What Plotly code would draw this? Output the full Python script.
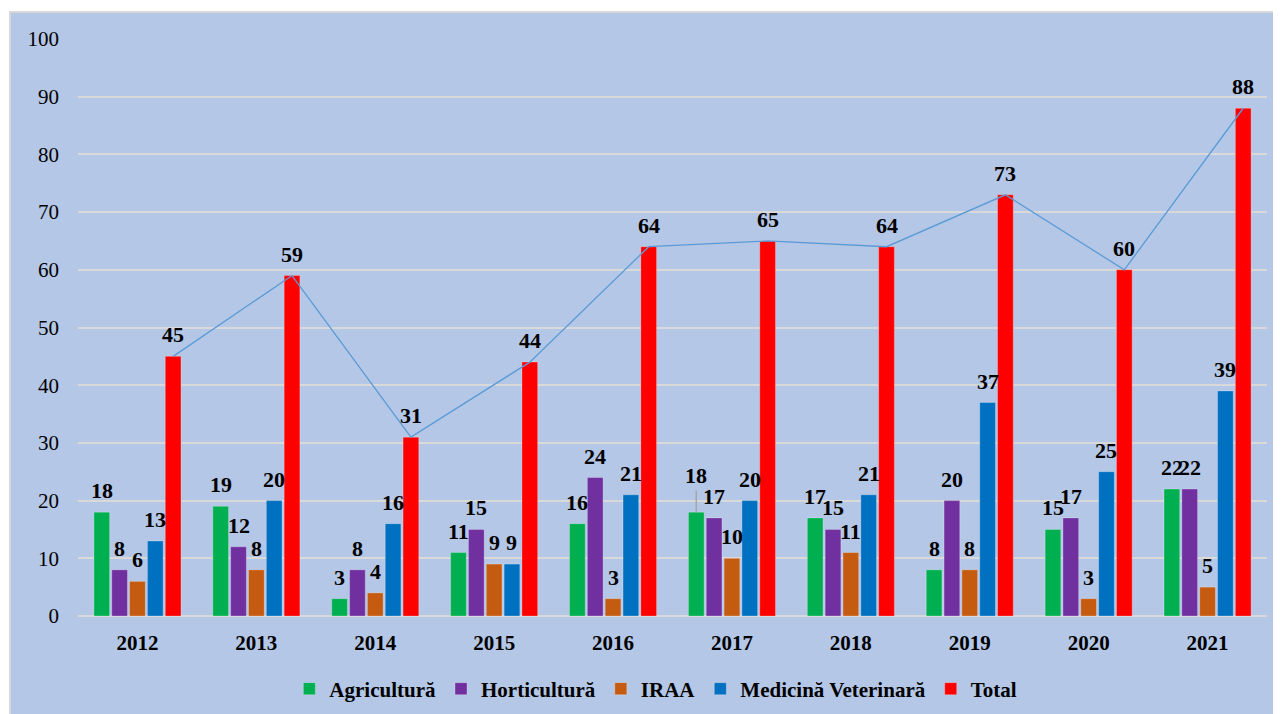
import plotly.graph_objects as go

years = ["2012", "2013", "2014", "2015", "2016", "2017", "2018", "2019", "2020", "2021"]
agricultura = [18, 19, 3, 11, 16, 18, 17, 8, 15, 22]
horticultura = [8, 12, 8, 15, 24, 17, 15, 20, 17, 22]
iraa = [6, 8, 4, 9, 3, 10, 11, 8, 3, 5]
medicina = [13, 20, 16, 9, 21, 20, 21, 37, 25, 39]
total = [45, 59, 31, 44, 64, 65, 64, 73, 60, 88]

series_names = ["Agricultură", "Horticultură", "IRAA", "Medicină Veterinară", "Total"]
series_values = [agricultura, horticultura, iraa, medicina, total]
colors = ["#00B050", "#7030A0", "#C55A11", "#0070C0", "#FF0000"]

# page body has an 8px margin, so the figure is sized to fit the window
W, H = 1273, 706
ML, MR, MT, MB = 70, 14, 31, 98
pw, ph = W - ML - MR, H - MT - MB

bargap = 0.25
groupgap = 0.12
nser = len(series_names)
slot = (1 - bargap) / nser
bw = slot * (1 - groupgap)

idx = list(range(len(years)))
serif = "Liberation Serif, Times New Roman, serif"
label_font = dict(family=serif, size=22, color="#000000", weight="bold")
leader_labels = {(0, 5)}  # label moved up with a leader line (Agricultură 2017)

bars = []
annotations = []
red_center = []
for k, (name, vals, col) in enumerate(zip(series_names, series_values, colors)):
    off = -(1 - bargap) / 2 + slot * k + slot * groupgap / 2
    bars.append(go.Bar(
        x=idx, y=vals, name=name, width=bw, offset=off,
        marker=dict(color=col, line=dict(color="rgba(255,255,255,0.25)", width=1)),
        hoverinfo="y+name",
    ))
    for i, v in zip(idx, vals):
        xc = i + off + bw / 2
        if (k, i) in leader_labels:
            annotations.append(dict(
                x=xc, y=v, xref="x", yref="y", text=str(v),
                showarrow=True, arrowhead=0, arrowwidth=1.5, arrowcolor="#A6A6A6",
                ax=0, ay=-22, yanchor="bottom", standoff=0,
                font=label_font,
            ))
        else:
            annotations.append(dict(
                x=xc, y=v, xref="x", yref="y", text=str(v),
                showarrow=False, yanchor="bottom", yshift=7,
                font=label_font,
            ))
    if k == nser - 1:
        red_center = [i + off + bw / 2 for i in idx]

line_trace = go.Scatter(
    x=red_center, y=total, mode="lines", showlegend=False,
    line=dict(color="#5B9BD5", width=1.3), hoverinfo="skip",
)
fig = go.Figure(data=[line_trace] + bars)

x0 = (2 - ML) / pw
x1 = (1300 - ML) / pw
y1 = (MT + ph - 4) / ph
y0 = (MT + ph - 730) / ph

fig.update_layout(
    width=W, height=H,
    margin=dict(l=ML, r=MR, t=MT, b=MB, autoexpand=False),
    paper_bgcolor="#FFFFFF",
    plot_bgcolor="#B4C7E7",
    barmode="overlay",
    showlegend=True,
    legend=dict(orientation="h", x=0.486, xanchor="center", y=(MT + ph - 681) / ph, yanchor="middle",
                font=dict(family=serif, size=21, color="#000000", weight="bold"),
                itemwidth=30, traceorder="normal", bgcolor="rgba(0,0,0,0)"),
    annotations=annotations,
    shapes=[dict(type="rect", xref="paper", yref="paper", x0=x0, x1=x1, y0=y0, y1=y1,
                 fillcolor="#B4C7E7", line=dict(color="#D9D9D9", width=2), layer="below")],
    font=dict(family=serif, color="#000000"),
)
fig.update_xaxes(range=[-0.5, len(years) - 0.5], tickvals=idx, ticktext=years,
                 showgrid=False, zeroline=False, showline=False, ticks="",
                 tickfont=dict(family=serif, size=21, color="#000000", weight="bold"),
                 ticklabelstandoff=12)
fig.update_yaxes(range=[0, 100], dtick=10, showgrid=True, gridcolor="#D9D9D9", gridwidth=2,
                 zeroline=True, zerolinecolor="#D9D9D9", zerolinewidth=2,
                 showline=False, ticks="",
                 tickfont=dict(family=serif, size=21, color="#000000"),
                 ticklabelstandoff=18)

fig.write_html("out.html")
